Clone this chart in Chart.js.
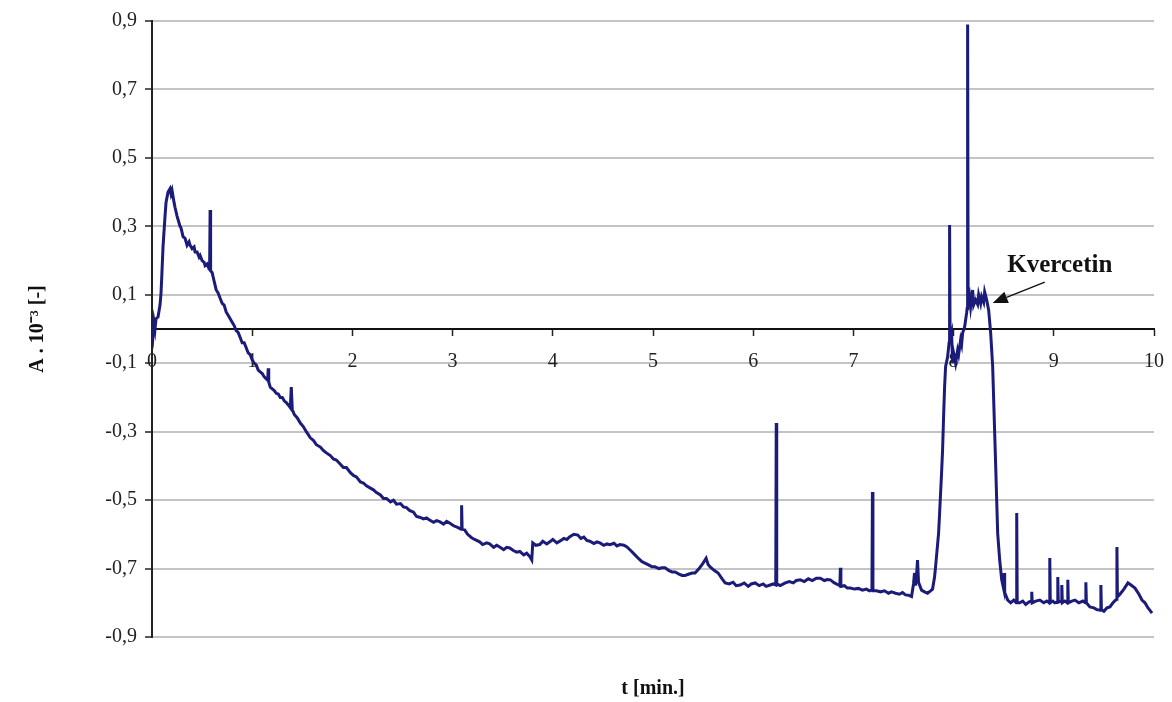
<!DOCTYPE html>
<html>
<head>
<meta charset="utf-8">
<title>Kvercetin</title>
<script src="https://cdn.jsdelivr.net/npm/chart.js@4.4.1/dist/chart.umd.min.js"></script>
<style>
  body { margin: 0; background: #fff; }
  #chart { display: block; }
</style>
</head>
<body>
<canvas id="chart" width="1172" height="702"></canvas>
<script>
// time [min] and absorbance (A . 10^-3)
const timeMin = [
  0, 0.01, 0.02, 0.03, 0.04, 0.06, 0.08, 0.09, 0.1, 0.11,
  0.13, 0.14, 0.16, 0.18, 0.19, 0.2, 0.22, 0.23, 0.25, 0.26,
  0.28, 0.29, 0.31, 0.33, 0.35, 0.37, 0.38, 0.40, 0.42, 0.43,
  0.45, 0.47, 0.48, 0.50, 0.52, 0.53, 0.55, 0.57, 0.575, 0.58,
  0.585, 0.6, 0.62, 0.64, 0.66, 0.68, 0.70, 0.72, 0.74, 0.76,
  0.78, 0.80, 0.82, 0.84, 0.86, 0.88, 0.90, 0.92, 0.94, 0.96,
  0.98, 1.0, 1.02, 1.04, 1.06, 1.08, 1.10, 1.12, 1.155, 1.16,
  1.165, 1.18, 1.2, 1.22, 1.24, 1.26, 1.28, 1.30, 1.32, 1.34,
  1.36, 1.38, 1.39, 1.40, 1.42, 1.45, 1.48, 1.51, 1.54, 1.58,
  1.61, 1.64, 1.68, 1.71, 1.74, 1.78, 1.81, 1.84, 1.88, 1.91,
  1.94, 1.98, 2.01, 2.04, 2.08, 2.11, 2.14, 2.18, 2.21, 2.24,
  2.28, 2.31, 2.34, 2.38, 2.41, 2.44, 2.48, 2.51, 2.54, 2.57,
  2.61, 2.64, 2.67, 2.71, 2.74, 2.77, 2.81, 2.84, 2.87, 2.91,
  2.94, 2.97, 3.01, 3.05, 3.085, 3.09, 3.095, 3.12, 3.15, 3.19,
  3.22, 3.27, 3.3, 3.34, 3.37, 3.41, 3.44, 3.47, 3.51, 3.54,
  3.57, 3.61, 3.64, 3.67, 3.71, 3.74, 3.77, 3.79, 3.80, 3.83,
  3.87, 3.9, 3.94, 3.97, 4.0, 4.04, 4.07, 4.11, 4.14, 4.17,
  4.21, 4.25, 4.28, 4.31, 4.34, 4.37, 4.41, 4.44, 4.47, 4.51,
  4.54, 4.57, 4.61, 4.64, 4.67, 4.71, 4.74, 4.78, 4.82, 4.86,
  4.89, 4.92, 4.96, 4.99, 5.02, 5.06, 5.09, 5.12, 5.16, 5.19,
  5.22, 5.26, 5.29, 5.32, 5.36, 5.39, 5.42, 5.46, 5.5, 5.53,
  5.55, 5.57, 5.61, 5.65, 5.69, 5.72, 5.76, 5.8, 5.83, 5.87,
  5.91, 5.95, 5.98, 6.02, 6.06, 6.1, 6.13, 6.17, 6.2, 6.225,
  6.23, 6.235, 6.27, 6.32, 6.36, 6.4, 6.43, 6.47, 6.51, 6.55,
  6.59, 6.63, 6.67, 6.71, 6.74, 6.77, 6.81, 6.85, 6.865, 6.87,
  6.875, 6.91, 6.94, 6.97, 7.01, 7.05, 7.09, 7.13, 7.16, 7.185,
  7.19, 7.195, 7.23, 7.27, 7.31, 7.35, 7.38, 7.42, 7.46, 7.49,
  7.52, 7.55, 7.58, 7.6, 7.61, 7.62, 7.63, 7.64, 7.65, 7.68,
  7.71, 7.74, 7.77, 7.79, 7.81, 7.82, 7.84, 7.85, 7.86, 7.87,
  7.88, 7.89, 7.9, 7.91, 7.92, 7.94, 7.955, 7.96, 7.965, 7.98,
  7.99, 8.0, 8.02, 8.04, 8.05, 8.07, 8.08, 8.09, 8.11, 8.13,
  8.135, 8.14, 8.145, 8.16, 8.17, 8.19, 8.2, 8.22, 8.24, 8.25,
  8.27, 8.28, 8.3, 8.31, 8.33, 8.35, 8.37, 8.39, 8.4, 8.41,
  8.42, 8.43, 8.44, 8.46, 8.48, 8.5, 8.505, 8.51, 8.54, 8.57,
  8.6, 8.625, 8.63, 8.635, 8.66, 8.69, 8.72, 8.75, 8.775, 8.78,
  8.785, 8.82, 8.86, 8.9, 8.93, 8.955, 8.96, 8.965, 8.99, 9.01,
  9.035, 9.04, 9.045, 9.075, 9.08, 9.085, 9.11, 9.135, 9.14, 9.145,
  9.18, 9.21, 9.25, 9.29, 9.315, 9.32, 9.325, 9.36, 9.4, 9.43,
  9.465, 9.47, 9.475, 9.5, 9.53, 9.56, 9.59, 9.625, 9.63, 9.635,
  9.66, 9.7, 9.74, 9.77, 9.81, 9.85, 9.88, 9.91, 9.94, 9.96,
  9.98
];

const absorbance = [
  0.0, -0.02, 0.02, 0.0, 0.03, 0.035, 0.07, 0.105, 0.17, 0.24,
  0.33, 0.37, 0.40, 0.41, 0.395, 0.405, 0.37, 0.355, 0.33, 0.32,
  0.30, 0.295, 0.27, 0.265, 0.245, 0.255, 0.245, 0.235, 0.24, 0.225,
  0.225, 0.21, 0.215, 0.2, 0.195, 0.185, 0.19, 0.175, 0.18, 0.348,
  0.17, 0.165, 0.14, 0.115, 0.105, 0.09, 0.075, 0.07, 0.05, 0.04,
  0.03, 0.02, 0.01, -0.005, -0.01, -0.025, -0.04, -0.04, -0.055, -0.07,
  -0.075, -0.09, -0.1, -0.105, -0.12, -0.125, -0.13, -0.14, -0.15, -0.115,
  -0.155, -0.17, -0.175, -0.18, -0.188, -0.19, -0.2, -0.2, -0.21, -0.215,
  -0.222, -0.23, -0.17, -0.235, -0.25, -0.26, -0.275, -0.285, -0.3, -0.318,
  -0.325, -0.338, -0.345, -0.355, -0.362, -0.37, -0.38, -0.383, -0.395, -0.405,
  -0.405, -0.42, -0.428, -0.432, -0.447, -0.45, -0.458, -0.465, -0.47, -0.478,
  -0.485, -0.495, -0.495, -0.505, -0.5, -0.512, -0.51, -0.52, -0.522, -0.53,
  -0.535, -0.548, -0.55, -0.555, -0.552, -0.558, -0.565, -0.56, -0.563, -0.57,
  -0.562, -0.567, -0.575, -0.58, -0.585, -0.515, -0.585, -0.587, -0.6, -0.61,
  -0.615, -0.622, -0.63, -0.625, -0.628, -0.638, -0.632, -0.637, -0.645, -0.638,
  -0.64, -0.648, -0.652, -0.65, -0.66, -0.655, -0.665, -0.675, -0.625, -0.632,
  -0.63, -0.62, -0.628, -0.622, -0.615, -0.625, -0.62, -0.612, -0.615, -0.607,
  -0.6, -0.602, -0.612, -0.608, -0.618, -0.62, -0.627, -0.622, -0.625, -0.632,
  -0.628, -0.63, -0.626, -0.634, -0.63, -0.632, -0.637, -0.648, -0.66, -0.672,
  -0.68, -0.684, -0.69, -0.695, -0.695, -0.7, -0.698, -0.698, -0.706, -0.71,
  -0.71, -0.716, -0.72, -0.72, -0.716, -0.713, -0.713, -0.7, -0.684, -0.67,
  -0.688, -0.695, -0.705, -0.713, -0.73, -0.742, -0.745, -0.74, -0.75, -0.748,
  -0.742, -0.752, -0.745, -0.742, -0.75, -0.745, -0.752, -0.748, -0.745, -0.748,
  -0.275, -0.745, -0.75, -0.742, -0.738, -0.742, -0.735, -0.733, -0.738, -0.73,
  -0.735, -0.728, -0.728, -0.735, -0.732, -0.733, -0.742, -0.748, -0.75, -0.698,
  -0.752, -0.75, -0.757, -0.757, -0.76, -0.758, -0.763, -0.76, -0.765, -0.762,
  -0.476, -0.765, -0.765, -0.768, -0.765, -0.772, -0.768, -0.772, -0.775, -0.77,
  -0.777, -0.778, -0.782, -0.745, -0.713, -0.75, -0.72, -0.675, -0.74, -0.763,
  -0.768, -0.772, -0.765, -0.76, -0.725, -0.695, -0.63, -0.597, -0.54, -0.48,
  -0.42, -0.354, -0.257, -0.17, -0.11, -0.082, -0.04, 0.304, -0.03, -0.012,
  -0.1, -0.07, -0.1, -0.062, -0.075, -0.032, -0.045, -0.012, 0.006, 0.047,
  0.06, 0.89, 0.07, 0.094, 0.065, 0.114, 0.07, 0.085, 0.072, 0.1,
  0.075, 0.094, 0.078, 0.108, 0.085, 0.055, -0.012, -0.11, -0.207, -0.304,
  -0.4, -0.5, -0.597, -0.675, -0.733, -0.76, -0.713, -0.77, -0.792, -0.8,
  -0.792, -0.8, -0.538, -0.8, -0.8, -0.795, -0.805, -0.798, -0.795, -0.768,
  -0.8, -0.795, -0.792, -0.8, -0.795, -0.8, -0.669, -0.8, -0.795, -0.8,
  -0.798, -0.725, -0.798, -0.795, -0.748, -0.8, -0.795, -0.8, -0.733, -0.8,
  -0.795, -0.792, -0.8, -0.795, -0.8, -0.74, -0.8, -0.812, -0.815, -0.82,
  -0.822, -0.748, -0.82, -0.825, -0.815, -0.812, -0.8, -0.79, -0.637, -0.783,
  -0.775, -0.76, -0.742, -0.748, -0.757, -0.775, -0.792, -0.8, -0.815, -0.822,
  -0.83
];

const yTicks = [-0.9, -0.7, -0.5, -0.3, -0.1, 0.1, 0.3, 0.5, 0.7, 0.9];

const serif = "'Liberation Serif', 'Times New Roman', serif";

// label "Kvercetin" with an arrow pointing at the peak
const kvercetinLabel = {
    id: 'kvercetinLabel',
    afterDatasetsDraw(chart) {
        const ctx = chart.ctx;
        const x = chart.scales.x, y = chart.scales.y;
        ctx.save();
        ctx.fillStyle = '#111';
        ctx.strokeStyle = '#111';
        ctx.font = 'bold 25px ' + serif;
        ctx.textAlign = 'center';
        ctx.textBaseline = 'alphabetic';
        ctx.fillText('Kvercetin', x.getPixelForValue(9.06), y.getPixelForValue(0.167));

        let x1 = x.getPixelForValue(8.91), y1 = y.getPixelForValue(0.137);
        let x2 = x.getPixelForValue(8.39), y2 = y.getPixelForValue(0.076);
        let ang = Math.atan2(y2 - y1, x2 - x1);
        let head = 15, half = 6;
        let bx = x2 - head * Math.cos(ang), by = y2 - head * Math.sin(ang);
        ctx.lineWidth = 1.5;
        ctx.beginPath();
        ctx.moveTo(x1, y1);
        ctx.lineTo(bx, by);
        ctx.stroke();
        ctx.beginPath();
        ctx.moveTo(x2, y2);
        ctx.lineTo(bx + half * Math.sin(ang), by - half * Math.cos(ang));
        ctx.lineTo(bx - half * Math.sin(ang), by + half * Math.cos(ang));
        ctx.closePath();
        ctx.fill();
        ctx.restore();
    }
};

new Chart(document.getElementById('chart'), {
    type: 'line',
    data: {
        datasets: [{
            data: timeMin.map((t, i) => ({ x: t, y: absorbance[i] })),
            borderColor: '#1b1b7a',
            borderWidth: 3,
            pointRadius: 0,
            tension: 0,
            fill: false
        }]
    },
    options: {
        responsive: false,
        animation: false,
        layout: { padding: { top: 21, right: 18, bottom: 0, left: 0 } },
        plugins: {
            legend: { display: false },
            tooltip: { enabled: false }
        },
        scales: {
            x: {
                type: 'linear',
                position: { y: 0 },
                min: 0,
                max: 10,
                afterFit: scale => {
                    scale.paddingLeft = 0;
                    scale.paddingRight = 0;
                },
                ticks: {
                    stepSize: 1,
                    padding: 15,
                    color: '#222',
                    font: { family: serif, size: 20 },
                    callback: v => String(v)
                },
                grid: {
                    drawOnChartArea: false,
                    drawTicks: true,
                    tickLength: 6,
                    tickColor: '#222',
                    tickWidth: 1.5
                },
                border: { display: true, color: '#111', width: 2 }
            },
            xTitle: {
                type: 'linear',
                position: 'bottom',
                axis: 'x',
                min: 0,
                max: 10,
                ticks: { display: false },
                grid: { display: false, drawTicks: false },
                border: { display: false },
                title: {
                    display: true,
                    text: 't [min.]',
                    color: '#111',
                    font: { family: serif, size: 20, weight: 'bold' },
                    padding: { top: 40, bottom: 1 }
                }
            },
            y: {
                type: 'linear',
                min: -0.9,
                max: 0.9,
                afterBuildTicks: scale => {
                    scale.ticks = yTicks.map(v => ({ value: v }));
                },
                afterFit: scale => { scale.width = 152; },
                ticks: {
                    padding: 8,
                    color: '#222',
                    font: { family: serif, size: 20 },
                    callback: v => v.toFixed(1).replace('.', ',')
                },
                grid: {
                    color: '#c4c4c4',
                    lineWidth: 2,
                    tickLength: 7,
                    tickColor: '#222',
                    tickWidth: 1.5
                },
                border: { display: true, color: '#222', width: 2 },
                title: {
                    display: true,
                    text: 'A . 10\u207B\u00B3 [-]',
                    color: '#111',
                    font: { family: serif, size: 20, weight: 'bold' },
                    padding: { top: 26, bottom: 0 }
                }
            }
        }
    },
    plugins: [kvercetinLabel]
});
</script>
</body>
</html>
